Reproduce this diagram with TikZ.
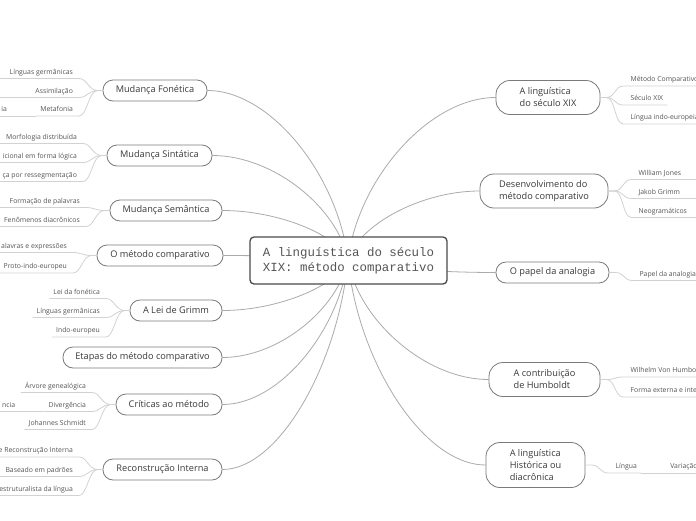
\documentclass[tikz,border=0pt]{standalone}
\usepackage{fontspec}
\setmainfont{Open Sans}
\newfontfamily\monof{Liberation Mono}
\usetikzlibrary{calc}
\pgfdeclarelayer{bg}
\pgfsetlayers{bg,main}
\definecolor{brc}{HTML}{ABABAB}
\definecolor{lfc}{HTML}{D2D2D2}
\definecolor{bdc}{HTML}{7A7A7A}
\definecolor{txc}{HTML}{3A3A3A}
\definecolor{lftx}{HTML}{555555}
\definecolor{rootbd}{HTML}{4A4A4A}
\tikzset{
 mnode/.style={draw=bdc, line width=0.8pt, fill=white, rounded corners=10pt, text=txc, inner sep=0pt, align=left, font=\fontsize{9.2}{12}\selectfont},
 mnode2/.style={mnode, rounded corners=14pt},
 leaf/.style={inner sep=0pt, text=lftx, font=\fontsize{6.85}{8}\selectfont},
 branch/.style={draw=brc, line width=0.8pt},
 leafline/.style={draw=lfc, line width=0.8pt},
}
% left leaf: name, parent, dy, text
\newcommand\lleaf[4]{%
\node[leaf,anchor=base east] (#1) at ($(#2.west)+(-29.5,#3+2.5)$) {#4};
\draw[leafline] let \p1=(#1.base west), \p2=(#1.base east), \p3=(#2.west) in (\x1-4pt,\y1-4.5pt) -- (\x2+6pt,\y1-4.5pt) .. controls (\x2+14pt,\y1-4.5pt) and (\x3-14pt,\y3) .. (\x3-5pt,\y3) -- (\p3);}
\newcommand\lleafx[4]{%
\node[leaf,anchor=base east] (#1) at ($(#2.west)+(-29.5,#3+2.5)$) {#4};
\draw[leafline] let \p1=(#1.base west), \p2=(#1.base east), \p3=(#2.west) in (0pt,\y1-4.5pt) -- (\x2+6pt,\y1-4.5pt) .. controls (\x2+14pt,\y1-4.5pt) and (\x3-14pt,\y3) .. (\x3-5pt,\y3) -- (\p3);}
\newcommand\lchild[3]{%
\node[leaf,anchor=base east] (#1) at ($(#2.base west)+(-33,0)$) {#3};
\draw[leafline] let \p1=(#2.base west) in (0pt,\y1-4.5pt) -- (\x1-4pt,\y1-4.5pt);}
% right leaf: name, parent, dy, text
\newcommand\rleaf[4]{%
\node[leaf,anchor=base west] (#1) at ($(#2.east)+(30,#3+2.5)$) {#4};
\draw[leafline] let \p1=(#1.base west), \p2=(#1.base east), \p3=(#2.east) in (\p3) -- (\x3+6pt,\y3) .. controls (\x3+15pt,\y3) and (\x1-16pt,\y1-4.5pt) .. (\x1-7pt,\y1-4.5pt) -- (\x2+4pt,\y1-4.5pt);}
\newcommand\rleafx[4]{%
\node[leaf,anchor=base west] (#1) at ($(#2.east)+(30,#3+2.5)$) {#4};
\draw[leafline] let \p1=(#1.base west), \p2=(#1.base east), \p3=(#2.east) in (\p3) -- (\x3+6pt,\y3) .. controls (\x3+15pt,\y3) and (\x1-16pt,\y1-4.5pt) .. (\x1-7pt,\y1-4.5pt) -- (700pt,\y1-4.5pt);}
\newcommand\rchild[3]{%
\node[leaf,anchor=base west] (#1) at ($(#2.base east)+(33,0)$) {#3};
\draw[leafline] let \p1=(#2.base east) in (\x1+4pt,\y1-4.5pt) -- (700pt,\y1-4.5pt);}
% branches from root centre
\newcommand\lbr[1]{\draw[branch] let \p1=(#1.east), \p2=(C) in (\p1) .. controls (\x1+0.45*\x2-0.45*\x1, \y1) and (\x2-10pt, 0.5*\y1+0.5*\y2) .. (\p2);}
\newcommand\rbr[1]{\draw[branch] let \p1=(#1.west), \p2=(C) in (\p1) .. controls (\x1+0.45*\x2-0.45*\x1, \y1) and (\x2+10pt, 0.5*\y1+0.5*\y2) .. (\p2);}
\begin{document}
\begin{tikzpicture}[x=1pt,y=-1pt]
\useasboundingbox (0,0) rectangle (696,520);
\begin{scope}
\clip (0,0) rectangle (696,520);
\coordinate (C) at (348,260);
\node[draw=rootbd, line width=1.3pt, fill=white, rounded corners=4pt, minimum width=197pt, minimum height=47pt, inner sep=0pt, align=left, text=lftx, font=\monof\fontsize{12.4}{15}\selectfont] (root) at (348.5,260.5) {A linguística do século\\XIX: método comparativo};
% left main nodes
\node[mnode, minimum width=104pt, minimum height=21pt] (fon) at (155,90.5) {Mudança Fonética};
\node[mnode, minimum width=105pt, minimum height=21pt] (sin) at (159.5,155.5) {Mudança Sintática};
\node[mnode, minimum width=112pt, minimum height=21pt] (sem) at (166,210.5) {Mudança Semântica};
\node[mnode, minimum width=126pt, minimum height=21pt] (mc) at (160,255.5) {O método comparativo};
\node[mnode, minimum width=92pt, minimum height=21pt] (grimm) at (176,310.5) {A Lei de Grimm};
\node[mnode, minimum width=159pt, minimum height=21pt] (etapas) at (142.5,357.5) {Etapas do método comparativo};
\node[mnode, minimum width=106pt, minimum height=21pt] (crit) at (169,404.5) {Críticas ao método};
\node[mnode, minimum width=119pt, minimum height=21pt] (rec) at (162.5,469.5) {Reconstrução Interna};
% right main nodes
\node[mnode2, minimum width=104pt, minimum height=34pt] (xix) at (548,97.5) {A linguística\\do século XIX};
\node[mnode2, minimum width=128pt, minimum height=34pt] (dev) at (544,191) {Desenvolvimento do\\método comparativo};
\node[mnode, minimum width=113pt, minimum height=21pt] (pap) at (552.5,272.5) {O papel da analogia};
\node[mnode2, minimum width=111pt, minimum height=34pt] (hum) at (544.5,379.5) {A contribuição\\de Humboldt};
\node[mnode2, minimum width=99pt, minimum height=45pt] (hist) at (535.5,465) {A linguística\\Histórica ou\\diacrônica};
% left leaves
\lleafx{f1}{fon}{-19}{Línguas germânicas}
\lleafx{f2}{fon}{0}{Assimilação}
\lleaf{f3}{fon}{18.5}{Metafonia}
\lchild{f3a}{f3}{ia}
\lleafx{s1}{sin}{-19}{Morfologia distribuída}
\lleafx{s2}{sin}{0}{icional em forma lógica}
\lleafx{s3}{sin}{19}{ça por ressegmentação}
\lleafx{e1}{sem}{-10}{Formação de palavras}
\lleafx{e2}{sem}{9}{Fenômenos diacrônicos}
\lleafx{m1}{mc}{-10}{alavras e expressões}
\lleafx{m2}{mc}{10.5}{Proto-indo-europeu}
\lleaf{g1}{grimm}{-19}{Lei da fonética}
\lleaf{g2}{grimm}{0}{Línguas germânicas}
\lleaf{g3}{grimm}{19.5}{Indo-europeu}
\lleaf{c1}{crit}{-19}{Árvore genealógica}
\lleaf{c2}{crit}{0}{Divergência}
\lchild{c2a}{c2}{ncia}
\lleaf{c3}{crit}{18}{Johannes Schmidt}
\lleafx{r1}{rec}{-19.5}{e Reconstrução Interna}
\lleafx{r2}{rec}{0}{Baseado em padrões}
\lleafx{r3}{rec}{19}{estruturalista da língua}
% right leaves
\rleafx{x1}{xix}{-18.5}{Método Comparativo}
\rleaf{x2}{xix}{0.5}{Século XIX}
\rleafx{x3}{xix}{19.5}{Língua indo-europeia}
\rleafx{d1}{dev}{-18.5}{William Jones}
\rleafx{d2}{dev}{0.5}{Jakob Grimm}
\rleafx{d3}{dev}{19.5}{Neogramáticos}
\rleafx{p1}{pap}{1}{Papel da analogia}
\rleafx{h1}{hum}{-9.5}{Wilhelm Von Humboldt}
\rleafx{h2}{hum}{10.5}{Forma externa e interna}
\rleaf{t1}{hist}{1}{Língua}
\rchild{t1a}{t1}{Variação}
\end{scope}
\begin{pgfonlayer}{bg}
\fill[white] (0,0) rectangle (696,520);
\lbr{fon}\lbr{sin}\lbr{sem}\lbr{mc}\lbr{grimm}\lbr{etapas}\lbr{crit}\lbr{rec}
\rbr{xix}\rbr{dev}\rbr{pap}\rbr{hum}\rbr{hist}
\end{pgfonlayer}
\end{tikzpicture}
\end{document}
